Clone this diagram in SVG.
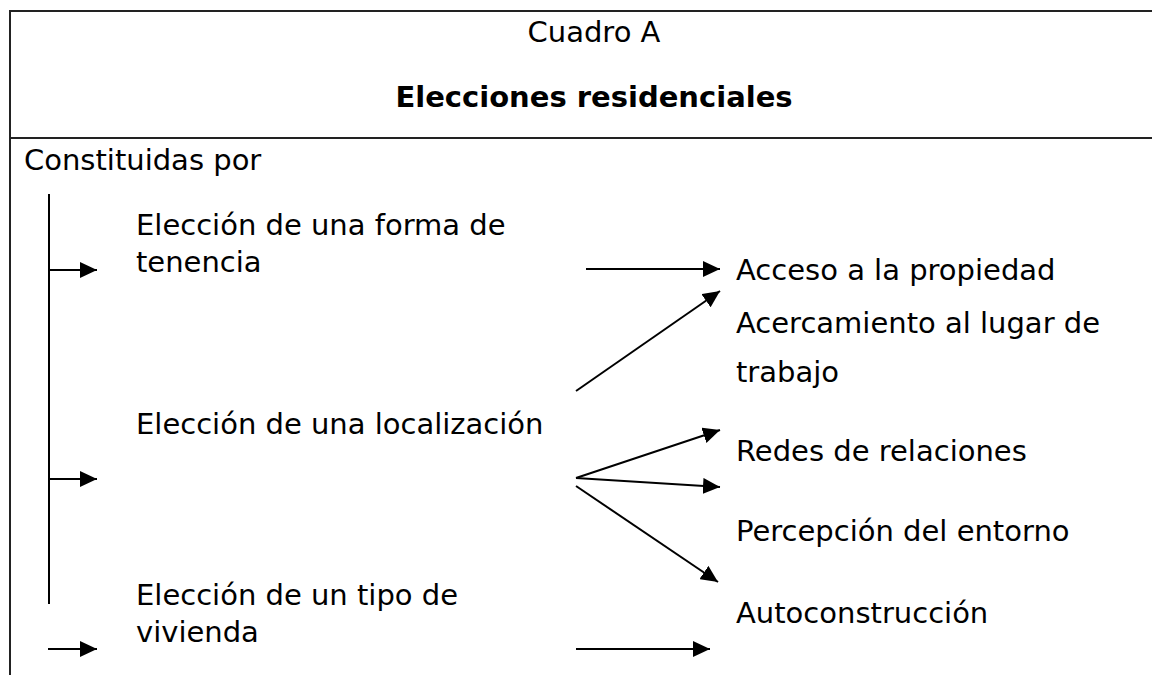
<svg xmlns="http://www.w3.org/2000/svg" width="1152" height="675" viewBox="0 0 1152 675">
<style>
  text { font-family: "DejaVu Sans", "Liberation Sans", sans-serif; font-size: 29px; fill: #000; }
  .title { text-anchor: middle; }
  .bold { font-weight: bold; }
  .border { stroke: #222; stroke-width: 2; fill: none; }
  .conn { stroke: #000; stroke-width: 2; fill: none; }
  .arr { stroke: #000; stroke-width: 2; fill: none; marker-end: url(#ah); }
</style>
<defs>
  <marker id="ah" markerUnits="userSpaceOnUse" markerWidth="18" markerHeight="16" refX="17" refY="8" orient="auto">
    <path d="M0,0 L17,8 L0,16 z" fill="#000"/>
  </marker>
</defs>
<rect width="1152" height="675" fill="#fff"/>
<g id="table">
  <line class="border" x1="10" y1="11" x2="1152" y2="11"/>
  <line class="border" x1="10" y1="138" x2="1152" y2="138"/>
  <line class="border" x1="10" y1="10" x2="10" y2="675"/>
</g>
<g id="header">
  <text class="title" x="594" y="42">Cuadro A</text>
  <text class="title bold" x="594" y="107">Elecciones residenciales</text>
  <text x="24" y="170">Constituidas por</text>
</g>
<g id="n-tenencia"><text x="136" y="235">Elección de una forma de</text><text x="136" y="272">tenencia</text></g>
<g id="n-localizacion"><text x="136" y="434">Elección de una localización</text></g>
<g id="n-vivienda"><text x="136" y="605">Elección de un tipo de</text><text x="136" y="642">vivienda</text></g>
<g id="n-acceso"><text x="736" y="280">Acceso a la propiedad</text></g>
<g id="n-acercamiento"><text x="736" y="333">Acercamiento al lugar de</text><text x="736" y="382">trabajo</text></g>
<g id="n-redes"><text x="736" y="461">Redes de relaciones</text></g>
<g id="n-percepcion"><text x="736" y="541">Percepción del entorno</text></g>
<g id="n-autoconstruccion"><text x="736" y="623">Autoconstrucción</text></g>
<g id="connectors">
  <line class="conn" x1="49" y1="194" x2="49" y2="604"/>
  <line class="arr" x1="49" y1="270" x2="97" y2="270"/>
  <line class="arr" x1="49" y1="479" x2="97" y2="479"/>
  <line class="arr" x1="48" y1="649" x2="97" y2="649"/>
  <line class="arr" x1="586" y1="269" x2="720" y2="269"/>
  <line class="arr" x1="576" y1="391" x2="720" y2="291"/>
  <line class="arr" x1="576" y1="478" x2="720" y2="430"/>
  <line class="arr" x1="576" y1="478" x2="720" y2="487"/>
  <line class="arr" x1="576" y1="486" x2="718" y2="582"/>
  <line class="arr" x1="576" y1="649" x2="710" y2="649"/>
</g>
</svg>
